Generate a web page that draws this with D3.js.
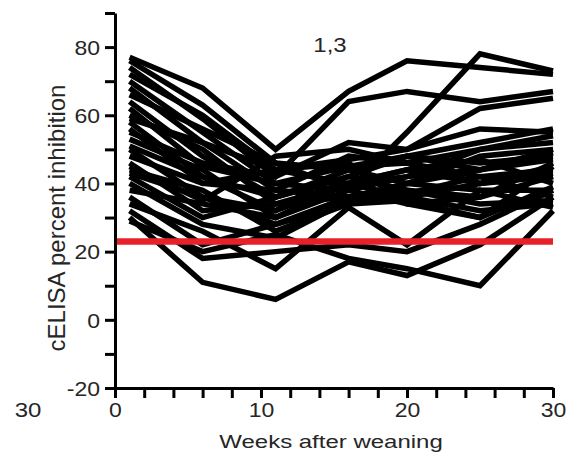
<!DOCTYPE html>
<html lang="en">
<head>
  <meta charset="UTF-8">
  <title>cELISA percent inhibition</title>
  <script src="https://d3js.org/d3.v7.min.js"></script>
  <style>
    body { margin: 0; background: #fff; }
    text {
      font-family: 'Liberation Sans', Arial, sans-serif;
      fill: #262626;
    }
    .tick line, .domain {
      stroke: #000;
      stroke-width: 3;
    }
  </style>
</head>
<body>
  <svg width="568" height="453"></svg>

  <script>
    // Sampling weeks and per-animal readings (percent inhibition)
    const weeks = [1, 6, 11, 16, 20, 25, 30];
    const animals = [
      [77, 68, 50, 67, 76, 74, 72],
      [76, 63, 46, 38, 55, 78, 73],
      [74, 59, 42, 64, 67, 64, 67],
      [72, 60, 44, 47, 50, 62, 65],
      [70, 55, 40, 45, 48, 52, 56],
      [68, 52, 38, 48, 46, 50, 54],
      [66, 56, 46, 44, 40, 48, 50],
      [64, 48, 36, 42, 48, 46, 48],
      [62, 45, 40, 38, 42, 44, 47],
      [60, 50, 34, 40, 36, 40, 45],
      [59, 52, 44, 40, 42, 50, 52],
      [58, 42, 32, 45, 46, 42, 44],
      [56, 40, 38, 36, 38, 36, 42],
      [53, 44, 30, 40, 44, 47, 40],
      [51, 42, 36, 44, 48, 44, 49],
      [50, 36, 28, 34, 40, 38, 38],
      [48, 40, 44, 46, 34, 36, 46],
      [46, 32, 34, 36, 37, 42, 36],
      [44, 38, 26, 34, 35, 30, 39],
      [43, 36, 32, 40, 44, 40, 43],
      [42, 30, 36, 42, 38, 34, 35],
      [40, 28, 24, 35, 36, 32, 34],
      [38, 34, 30, 38, 34, 30, 45],
      [36, 22, 28, 36, 40, 44, 50],
      [34, 26, 15, 33, 22, 38, 33],
      [32, 18, 20, 22, 20, 28, 38],
      [30, 11, 6, 17, 13, 22, 36],
      [29, 20, 25, 18, 15, 10, 32],
      [45, 35, 48, 50, 46, 40, 42],
      [55, 46, 42, 52, 50, 56, 55]
    ];
    const cutoff = 23;
    const yTicks = d3.range(-20, 91, 10);
    const xTicks = d3.range(0, 31, 2);

    const svg = d3.select("svg");
    const x = d3.scaleLinear().domain([0, 30]).range([115, 553]);
    const y = d3.scaleLinear().domain([-20, 90]).range([388, 13]);

    // data lines
    const line = d3.line()
      .x((d, i) => x(weeks[i]))
      .y(d => y(d));

    svg.append("g")
      .selectAll("path")
      .data(animals)
      .enter().append("path")
      .attr("fill", "none")
      .attr("stroke", "#000")
      .attr("stroke-width", 5.5)
      .attr("d", line);

    // positivity cut-off
    svg.append("line")
      .attr("x1", x(0))
      .attr("x2", x(30))
      .attr("y1", y(cutoff))
      .attr("y2", y(cutoff))
      .attr("stroke", "#e8202a")
      .attr("stroke-width", 6.5);

    // axes
    const yAxis = svg.append("g")
      .attr("transform", "translate(115,0)")
      .call(d3.axisLeft(y)
        .tickValues(yTicks)
        .tickSize(10)
        .tickSizeOuter(0)
        .tickPadding(5)
        .tickFormat(d => d % 20 === 0 ? d : ""));
    yAxis.selectAll("text")
      .style("font-size", "23px")
      .attr("dy", "0.36em")
      .attr("transform", "scale(1,0.88)");

    const xAxis = svg.append("g")
      .attr("transform", "translate(0,388)")
      .call(d3.axisBottom(x)
        .tickValues(xTicks)
        .tickSize(10)
        .tickSizeOuter(0)
        .tickFormat(d => d % 10 === 0 ? d : ""));
    xAxis.selectAll("text")
      .style("font-size", "23px")
      .attr("y", 0)
      .attr("dy", 0)
      .attr("transform", "translate(0,29) scale(1,0.88)");

    // labels
    svg.append("text")
      .attr("transform", "translate(331,448) scale(1,0.76)")
      .attr("text-anchor", "middle")
      .style("font-size", "24px")
      .text("Weeks after weaning");

    svg.append("text")
      .attr("transform", "translate(65,218) rotate(-90)")
      .attr("text-anchor", "middle")
      .style("font-size", "24px")
      .text("cELISA percent inhibition");

    svg.append("text")
      .attr("transform", "translate(330,52) scale(1,0.85)")
      .attr("text-anchor", "middle")
      .style("font-size", "24px")
      .text("1,3");

    svg.append("text")
      .attr("transform", "translate(28,417) scale(1,0.88)")
      .attr("text-anchor", "middle")
      .style("font-size", "24px")
      .text("30");
  </script>
</body>
</html>
